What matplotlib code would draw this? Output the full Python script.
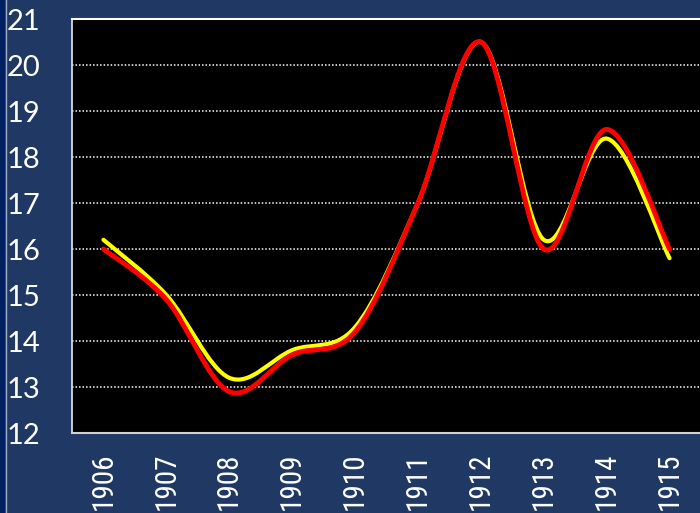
import matplotlib.pyplot as plt
import matplotlib.font_manager as fm
import numpy as np
from matplotlib.path import Path
from matplotlib.patches import PathPatch, Rectangle
from matplotlib.lines import Line2D

years = ['1906', '1907', '1908', '1909', '1910', '1911', '1912', '1913', '1914', '1915']
red_vals = [16.0, 14.9, 12.9, 13.7, 14.2, 17.0, 20.5, 16.0, 18.6, 16.0]
yellow_vals = [16.2, 15.0, 13.2, 13.8, 14.3, 17.0, 20.5, 16.2, 18.4, 15.8]

navy = '#203864'

# narrow face if one is around, otherwise Lato
names = {f.name for f in fm.fontManager.ttflist}
narrow = [n for n in ['Liberation Sans Narrow', 'Roboto Condensed'] if n in names]
font = narrow[0] if narrow else 'Lato'
xsize = 21 if narrow else 18
plt.rcParams['font.family'] = [font, 'DejaVu Sans']


def smooth_path(xs, ys):
    # excel-like smoothed line: cubic bezier through each point
    p = np.column_stack([xs, ys]).astype(float)
    ext = np.vstack([p[0], p, p[-1]])
    verts = [p[0]]
    codes = [Path.MOVETO]
    for i in range(len(p) - 1):
        p0, p1, p2, p3 = ext[i], ext[i + 1], ext[i + 2], ext[i + 3]
        c1 = p1 + (p2 - p0) / 6
        c2 = p2 - (p3 - p1) / 6
        verts += [c1, c2, p2]
        codes += [Path.CURVE4] * 3
    return Path(verts, codes)


fig = plt.figure(figsize=(7, 5.13), dpi=100, facecolor=navy)
ax = fig.add_axes([72/700, 80/513, 629/700, 414/513])
ax.set_facecolor('black')

x = np.arange(len(years))
ax.add_patch(PathPatch(smooth_path(x, yellow_vals), facecolor='none', edgecolor='#FFFF00',
                       lw=3.0, capstyle='round', joinstyle='round', zorder=3))
ax.add_patch(PathPatch(smooth_path(x, red_vals), facecolor='none', edgecolor='#FF0000',
                       lw=3.5, capstyle='round', joinstyle='round', zorder=4))

ax.set_xlim(-0.5, len(years) - 0.5)
ax.set_ylim(12, 21)
ax.set_yticks(range(12, 22))
ax.set_xticks(x)
ax.set_xticklabels(years, rotation=90)
ax.tick_params(axis='both', length=0, colors='white')
ax.tick_params(axis='y', pad=23, labelsize=21)
ax.tick_params(axis='x', pad=14, labelsize=xsize)
for lab in ax.get_yticklabels():
    lab.set_fontfamily(['Lato', 'DejaVu Sans'])

for v in range(13, 21):
    ax.axhline(v, color='white', lw=1.1, dashes=(1, 1.3), zorder=1)

ax.spines['right'].set_visible(False)
ax.spines['left'].set_color('#D9D9D9')
ax.spines['bottom'].set_color('#D0D0D0')
ax.spines['top'].set_color('white')
ax.spines['left'].set_linewidth(1.3)
ax.spines['bottom'].set_linewidth(1.5)
ax.spines['top'].set_linewidth(1.5)

fig.patches.append(Rectangle((0, 0), 5/700, 1, transform=fig.transFigure,
                             facecolor='#002060', edgecolor='none'))
fig.lines.append(Line2D([6/700, 6/700], [0, 1], transform=fig.transFigure,
                        color='#9DA9C0', lw=1))

plt.savefig('out.png', dpi=100, facecolor=navy)
